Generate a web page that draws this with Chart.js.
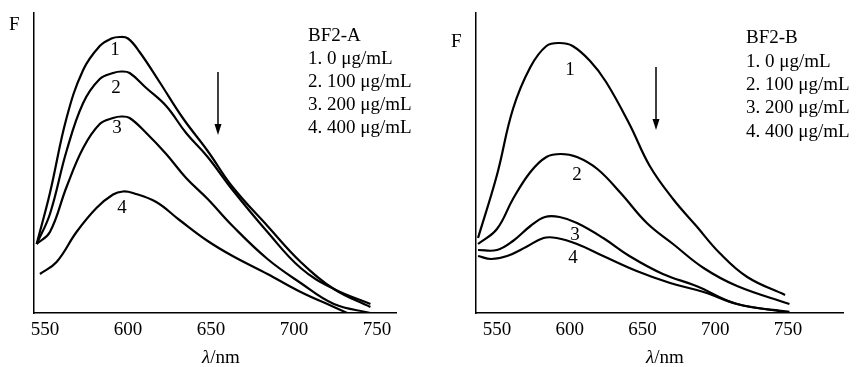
<!DOCTYPE html>
<html lang="en">
<head>
<meta charset="UTF-8">
<title>BF2 fluorescence quenching</title>
<script src="https://cdn.jsdelivr.net/npm/chart.js"></script>
<style>
  body { margin: 0; background: #fff; }
  .panel { position: absolute; top: 0; width: 430px; height: 367px; }
</style>
</head>
<body>
<div class="panel" style="left:0"><canvas id="chartA" width="430" height="367"></canvas></div>
<div class="panel" style="left:430px"><canvas id="chartB" width="430" height="367"></canvas></div>

<script>
// x tick labels (nm)
const tickNm = [550, 600, 650, 700, 750];
const curveNames = ['1', '2', '3', '4'];

// BF2-A spectra (wavelength nm, relative intensity)
const waveA1 = [545, 553, 563, 573, 583, 590, 595, 600, 607, 619, 633, 648, 663, 684, 704, 724, 746];
const fluorA1 = [23, 40, 65, 81, 89, 91.5, 92, 91.5, 87, 77, 65, 54, 42, 29, 17, 8, 2];
const waveA2 = [545, 553, 563, 573, 583, 591, 596, 601, 611, 623, 635, 648, 663, 684, 704, 724, 746];
const fluorA2 = [23, 33, 54, 70, 78, 80, 80.5, 80, 75, 69, 60, 52, 41, 27, 15, 8, 3];
const waveA3 = [545, 553, 563, 573, 583, 591, 596, 601, 611, 623, 635, 648, 663, 684, 704, 724, 746];
const fluorA3 = [23, 27, 42, 55, 63, 65, 65.5, 65, 60, 53, 45, 38, 29, 18, 10, 3, 0];
const waveA4 = [547, 557, 569, 581, 591, 597, 603, 617, 631, 648, 663, 684, 704, 724, 732];
const fluorA4 = [13, 17, 27, 35, 39.5, 40.5, 40, 37, 31, 24, 19, 13, 7, 2, 0];

// BF2-B spectra
const waveB1 = [537, 550, 561, 573, 584, 593, 602, 614, 625, 641, 655, 671, 687, 703, 722, 748];
const fluorB1 = [25, 46, 68, 82, 89, 90, 89, 84, 77, 63, 49, 38, 29, 20, 12, 6];
const waveB2 = [537, 550, 561, 573, 584, 594, 605, 619, 635, 653, 671, 692, 715, 751];
const fluorB2 = [23, 28, 38, 47, 52, 53, 52, 48, 40, 30, 23, 15, 9, 3];
const waveB3 = [537, 550, 561, 573, 583, 593, 605, 623, 641, 664, 687, 715, 751];
const fluorB3 = [21, 21, 24, 29, 32, 32, 30, 25, 19, 13, 9, 3, 0.4];
const waveB4 = [537, 546, 557, 570, 582, 591, 605, 623, 646, 669, 692, 715, 747];
const fluorB4 = [19, 18, 19, 22, 25, 25, 23, 19, 14, 10, 7, 3, 0.4];

const legendA = ['BF2-A', '1. 0 \u03bcg/mL', '2. 100 \u03bcg/mL', '3. 200 \u03bcg/mL', '4. 400 \u03bcg/mL'];
const legendB = ['BF2-B', '1. 0 \u03bcg/mL', '2. 100 \u03bcg/mL', '3. 200 \u03bcg/mL', '4. 400 \u03bcg/mL'];

const FONT = '"Liberation Serif", "Times New Roman", serif';
const SIZE = 19;

const zip = (xs, ys) => xs.map((v, i) => ({ x: v, y: ys[i] }));

// curve numbers, arrow, legend text, "F" and the λ/nm title
const notes = {
    id: 'notes',
    afterDraw(chart, args, o) {
        const { ctx, scales: { x, y } } = chart;
        const plain = SIZE + 'px ' + FONT;
        const ital = 'italic ' + SIZE + 'px ' + FONT;
        ctx.save();
        ctx.fillStyle = '#000';
        ctx.strokeStyle = '#000';
        ctx.font = plain;

        ctx.textAlign = 'center';
        ctx.textBaseline = 'middle';
        o.marks.forEach((m, i) => {
            ctx.fillText(curveNames[i], x.getPixelForValue(m[0]), y.getPixelForValue(m[1]));
        });

        // arrow pointing down
        const ax = x.getPixelForValue(o.arrow[0]);
        const ay0 = y.getPixelForValue(o.arrow[1]);
        const ay1 = y.getPixelForValue(o.arrow[2]);
        ctx.lineWidth = 1.5;
        ctx.beginPath();
        ctx.moveTo(ax, ay0);
        ctx.lineTo(ax, ay1 - 8);
        ctx.stroke();
        ctx.beginPath();
        ctx.moveTo(ax - 3.5, ay1 - 11);
        ctx.lineTo(ax, ay1);
        ctx.lineTo(ax + 3.5, ay1 - 11);
        ctx.closePath();
        ctx.fill();

        ctx.textAlign = 'left';
        ctx.textBaseline = 'alphabetic';
        o.legend.forEach((t, i) => ctx.fillText(t, o.legendX, o.legendY[i]));
        ctx.fillText('F', o.fPos[0], o.fPos[1]);

        ctx.font = ital;
        const w1 = ctx.measureText('\u03bb').width;
        ctx.font = plain;
        const w2 = ctx.measureText('/nm').width;
        const sx = o.titleX - (w1 + w2) / 2;
        ctx.font = ital;
        ctx.fillText('\u03bb', sx, 363);
        ctx.font = plain;
        ctx.fillText('/nm', sx + w1, 363);
        ctx.restore();
    }
};

function makePanel(id, series, xMin, xMax, pad, noteOpts) {
    return new Chart(document.getElementById(id), {
        type: 'line',
        data: {
            datasets: series.map(s => ({
                data: zip(s[0], s[1]),
                borderColor: '#000',
                borderWidth: 2.2,
                pointRadius: 0,
                fill: false,
                tension: 0.4
            }))
        },
        options: {
            responsive: false,
            animation: false,
            layout: { padding: pad },
            plugins: {
                legend: { display: false },
                tooltip: { enabled: false },
                notes: noteOpts
            },
            scales: {
                x: {
                    type: 'linear',
                    min: xMin,
                    max: xMax,
                    grid: { display: false, drawTicks: false },
                    border: { display: true, color: '#000', width: 1.5 },
                    ticks: {
                        color: '#000',
                        font: { family: FONT, size: SIZE },
                        padding: 6,
                        maxRotation: 0,
                        autoSkip: false
                    },
                    afterBuildTicks: s => { s.ticks = tickNm.map(v => ({ value: v })); },
                    afterFit: s => { s.height = 54; }
                },
                y: {
                    min: 0,
                    max: 100,
                    grid: { display: false, drawTicks: false },
                    border: { display: true, color: '#000', width: 1.5 },
                    ticks: { display: false },
                    afterFit: s => { s.width = 0; }
                }
            }
        },
        plugins: [notes]
    });
}

makePanel('chartA',
    [[waveA1, fluorA1], [waveA2, fluorA2], [waveA3, fluorA3], [waveA4, fluorA4]],
    543.4, 761.4,
    { left: 34, top: 13, right: 34, bottom: 0 },
    {
        marks: [[592.2, 87.7], [592.8, 75], [593.4, 61.7], [596.4, 35]],
        arrow: [654.2, 80.3, 59.3],
        legend: legendA,
        legendX: 308,
        legendY: [41, 64, 87, 110, 133],
        fPos: [9, 30],
        titleX: 221
    });

makePanel('chartB',
    [[waveB1, fluorB1], [waveB2, fluorB2], [waveB3, fluorB3], [waveB4, fluorB4]],
    535.6, 787.8,
    { left: 46, top: 13, right: 17, bottom: 0 },
    {
        marks: [[600.2, 81], [605, 46], [603.6, 26], [602.2, 18.3]],
        arrow: [659.3, 82, 61],
        legend: legendB,
        legendX: 316,
        legendY: [43, 67, 90, 113, 137],
        fPos: [21, 47],
        titleX: 235
    });
</script>
</body>
</html>
